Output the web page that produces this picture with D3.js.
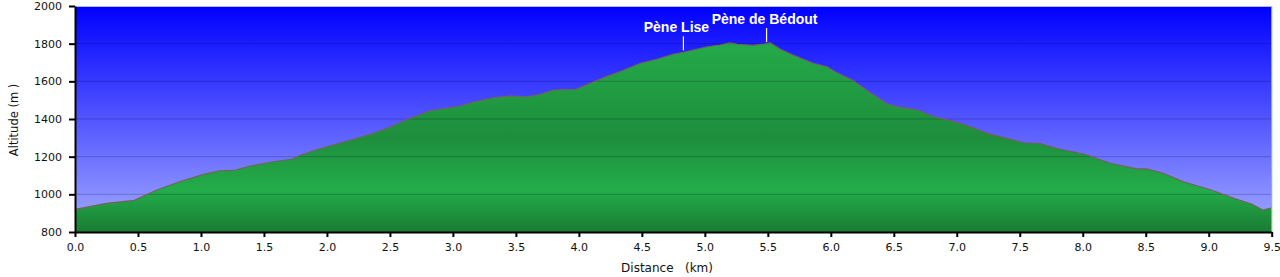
<!DOCTYPE html>
<html>
<head>
<meta charset="utf-8">
<script src="https://cdn.jsdelivr.net/npm/d3@7"></script>
<style>
  html, body { margin: 0; padding: 0; background: #fff; }
  svg { display: block; }
  text { font-family: "DejaVu Sans", Verdana, sans-serif; }
</style>
</head>
<body>
<svg id="chart"></svg>
<script>
// profil altimétrique : distance (km) / altitude (m)
const distances = [0.00, 0.25, 0.47, 0.65, 0.83, 1.02, 1.15, 1.26, 1.39, 1.57, 1.72, 1.80, 1.92,
  2.05, 2.21, 2.37, 2.48, 2.63, 2.82, 2.95, 3.06, 3.16, 3.32, 3.46, 3.59, 3.69, 3.80, 3.98,
  4.09, 4.22, 4.35, 4.49, 4.62, 4.75, 4.83, 4.91, 5.02, 5.12, 5.20, 5.26, 5.38, 5.47, 5.52,
  5.60, 5.70, 5.86, 5.97, 6.05, 6.18, 6.29, 6.45, 6.55, 6.69, 6.82, 6.98, 7.11, 7.24, 7.40,
  7.53, 7.66, 7.82, 8.01, 8.22, 8.43, 8.51, 8.64, 8.80, 9.02, 9.20, 9.34, 9.43, 9.50]
const altitudes = [920, 952, 968, 1023, 1067, 1106, 1125, 1127, 1150, 1173, 1186, 1210, 1237,
  1262, 1292, 1324, 1351, 1395, 1444, 1457, 1469, 1489, 1513, 1522, 1518, 1530, 1554, 1558,
  1590, 1625, 1657, 1696, 1717, 1744, 1754, 1766, 1784, 1793, 1805, 1797, 1791, 1798, 1805,
  1770, 1740, 1696, 1678, 1645, 1603, 1550, 1480, 1462, 1448, 1412, 1386, 1359, 1324, 1297,
  1274, 1270, 1239, 1214, 1165, 1135, 1135, 1112, 1067, 1023, 979, 949, 917, 929]

const xTicks = [0, 0.5, 1, 1.5, 2, 2.5, 3, 3.5, 4, 4.5, 5, 5.5, 6, 6.5, 7, 7.5, 8, 8.5, 9, 9.5]
const yTicks = [800, 1000, 1200, 1400, 1600, 1800, 2000]

// sommets
const peakNames = ['Pène Lise', 'Pène de Bédout']
const peakKm = [4.83, 5.49]
const peakDx = [-7, -2]

const width = 1280
const height = 277
const margin = { top: 6, right: 8.3, bottom: 45, left: 75 }
const innerW = width - margin.left - margin.right
const innerH = height - margin.top - margin.bottom

const profile = distances.map((d, i) => ({ km: d, alt: altitudes[i] }))

const svg = d3.select('#chart')
  .attr('width', width)
  .attr('height', height)

const x = d3.scaleLinear().domain([0, 9.5]).range([0, innerW])
const y = d3.scaleLinear().domain([800, 2000]).range([innerH, 0])

const defs = svg.append('defs')

// fond bleu dégradé
const sky = defs.append('linearGradient')
  .attr('id', 'sky').attr('x1', 0).attr('y1', 0).attr('x2', 0).attr('y2', 1)
sky.append('stop').attr('offset', '0%').attr('stop-color', '#0000ff')
sky.append('stop').attr('offset', '100%').attr('stop-color', '#a4abff')

// vert du relief
const maxAlt = d3.max(altitudes)
const ground = defs.append('linearGradient')
  .attr('id', 'ground').attr('gradientUnits', 'userSpaceOnUse')
  .attr('x1', 0).attr('x2', 0)
  .attr('y1', y(maxAlt)).attr('y2', y(800))
ground.append('stop').attr('offset', '0%').attr('stop-color', '#24aa49')
ground.append('stop').attr('offset', '50%').attr('stop-color', '#1e8e3d')
ground.append('stop').attr('offset', '78%').attr('stop-color', '#23ad4a')
ground.append('stop').attr('offset', '100%').attr('stop-color', '#1a7b33')

const g = svg.append('g')
  .attr('transform', `translate(${margin.left},${margin.top})`)

g.append('rect')
  .attr('width', innerW)
  .attr('height', innerH)
  .attr('fill', 'url(#sky)')

const area = d3.area()
  .x(d => x(d.km))
  .y0(y(800))
  .y1(d => y(d.alt))

g.append('path')
  .datum(profile)
  .attr('d', area)
  .attr('fill', 'url(#ground)')

// grille
g.selectAll('.grid')
  .data(yTicks.filter(t => t > 800 && t < 2000))
  .enter()
  .append('line')
  .attr('class', 'grid')
  .attr('x1', 0).attr('x2', innerW)
  .attr('y1', d => y(d)).attr('y2', d => y(d))
  .attr('stroke', '#000028')
  .attr('stroke-opacity', 0.22)

const line = d3.line()
  .x(d => x(d.km))
  .y(d => y(d.alt))

g.append('path')
  .datum(profile)
  .attr('d', line)
  .attr('fill', 'none')
  .attr('stroke', '#736456')
  .attr('stroke-width', 1.1)

// bordure haute et droite
g.append('line')
  .attr('x1', 0).attr('x2', innerW)
  .attr('y1', 0.5).attr('y2', 0.5)
  .attr('stroke', '#b4b8f0')
g.append('line')
  .attr('x1', x(9.5)).attr('x2', x(9.5))
  .attr('y1', 0).attr('y2', innerH)
  .attr('stroke', '#6fd06f')
  .attr('stroke-width', 1.2)

// axes
const xAxis = d3.axisBottom(x)
  .tickValues(xTicks)
  .tickFormat(d3.format('.1f'))
  .tickSizeInner(5)
  .tickSizeOuter(0)
  .tickPadding(6)

const yAxis = d3.axisLeft(y)
  .tickValues(yTicks)
  .tickFormat(d3.format('d'))
  .tickSizeInner(6)
  .tickSizeOuter(0)
  .tickPadding(7)

const gx = g.append('g')
  .attr('transform', `translate(0,${innerH})`)
  .call(xAxis)
const gy = g.append('g').call(yAxis)

;[gx, gy].forEach(ax => {
  ax.select('.domain').attr('stroke', '#000').attr('stroke-width', 2)
  ax.selectAll('.tick line').attr('stroke', '#000').attr('stroke-width', 2)
  ax.selectAll('.tick text')
    .attr('fill', '#111')
    .style('font-size', '11px')
    .style('font-family', '"DejaVu Sans", Verdana, sans-serif')
})

// titres des axes
svg.append('text')
  .attr('x', margin.left + x(4.7))
  .attr('y', 272)
  .attr('text-anchor', 'middle')
  .style('font-size', '12px')
  .style('white-space', 'pre')
  .attr('fill', '#111')
  .text('Distance   (km)')

svg.append('text')
  .attr('transform', `translate(18,${margin.top + y(1395)}) rotate(-90)`)
  .attr('text-anchor', 'middle')
  .style('font-size', '11.5px')
  .attr('fill', '#111')
  .text('Altitude (m )')

// étiquettes des sommets
const altAt = km => {
  const i = d3.bisector(d => d.km).center(profile, km)
  return profile[i].alt
}

const peaks = g.selectAll('.peak')
  .data(peakNames.map((n, i) => ({ name: n, km: peakKm[i], dx: peakDx[i] })))
  .enter()
  .append('g')
  .attr('class', 'peak')

peaks.append('line')
  .attr('x1', d => x(d.km)).attr('x2', d => x(d.km))
  .attr('y1', d => y(altAt(d.km)) - 2)
  .attr('y2', d => y(altAt(d.km)) - 16)
  .attr('stroke', '#fff')
  .attr('stroke-width', 1.2)

peaks.append('text')
  .attr('x', d => x(d.km) + d.dx)
  .attr('y', d => y(altAt(d.km)) - 20)
  .attr('text-anchor', 'middle')
  .attr('fill', '#fff')
  .style('font-family', '"Liberation Sans", Arial, sans-serif')
  .style('font-weight', 'bold')
  .style('font-size', '14px')
  .text(d => d.name)
</script>
</body>
</html>
